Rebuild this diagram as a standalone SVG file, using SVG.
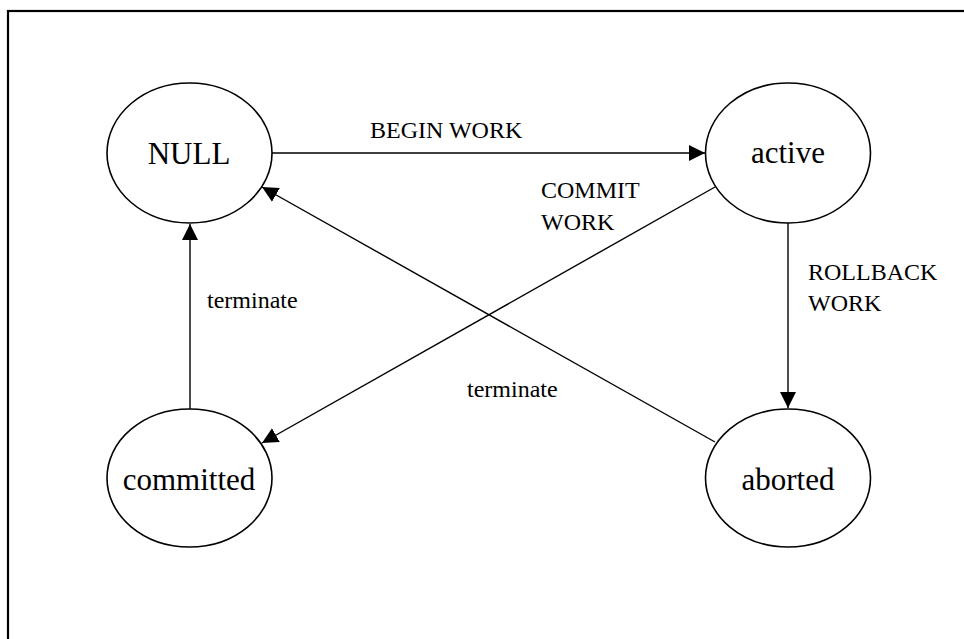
<svg xmlns="http://www.w3.org/2000/svg" width="964" height="639" viewBox="0 0 964 639">
  <style>
    .frame { fill: none; stroke: #000; stroke-width: 2.2; }
    .state { fill: #fff; stroke: #000; stroke-width: 1.6; }
    .state-label { font-family: "Liberation Serif", "Times New Roman", serif; font-size: 31px; fill: #000; text-anchor: middle; }
    .edge { fill: none; stroke: #000; stroke-width: 1.4; marker-end: url(#arrow); }
    .edge-label { font-family: "Liberation Serif", "Times New Roman", serif; font-size: 24px; fill: #000; }
  </style>
  <defs>
    <marker id="arrow" markerUnits="userSpaceOnUse" markerWidth="17" markerHeight="16" refX="16" refY="8" orient="auto">
      <path d="M0,0 L16,8 L0,16 z" fill="#000"/>
    </marker>
  </defs>

  <rect width="964" height="639" fill="#fff"/>
  <!-- outer frame, open past the right and bottom edges -->
  <rect class="frame" x="8" y="11" width="1000" height="700"/>

  <!-- transitions -->
  <g id="connectors">
    <line class="edge" x1="272" y1="153" x2="705" y2="153"/>
    <line class="edge" x1="715" y1="187" x2="262" y2="443"/>
    <line class="edge" x1="788" y1="223" x2="788" y2="408"/>
    <line class="edge" x1="190" y1="409" x2="190" y2="224"/>
    <line class="edge" x1="715" y1="442" x2="262" y2="187"/>
    <text class="edge-label" x="370" y="138">BEGIN WORK</text>
    <text class="edge-label" x="541" y="198">COMMIT</text>
    <text class="edge-label" x="541" y="230">WORK</text>
    <text class="edge-label" x="808" y="280">ROLLBACK</text>
    <text class="edge-label" x="808" y="311">WORK</text>
    <text class="edge-label" x="207" y="308">terminate</text>
    <text class="edge-label" x="467" y="397">terminate</text>
  </g>

  <g id="state-null">
    <ellipse class="state" cx="189.5" cy="153" rx="82.5" ry="70"/>
    <text class="state-label" x="189" y="164">NULL</text>
  </g>
  <g id="state-active">
    <ellipse class="state" cx="788" cy="153" rx="82.5" ry="70"/>
    <text class="state-label" x="788" y="163">active</text>
  </g>
  <g id="state-committed">
    <ellipse class="state" cx="189.5" cy="478" rx="82.5" ry="69"/>
    <text class="state-label" x="189" y="490">committed</text>
  </g>
  <g id="state-aborted">
    <ellipse class="state" cx="788" cy="478" rx="82.5" ry="69"/>
    <text class="state-label" x="788" y="490">aborted</text>
  </g>
</svg>
